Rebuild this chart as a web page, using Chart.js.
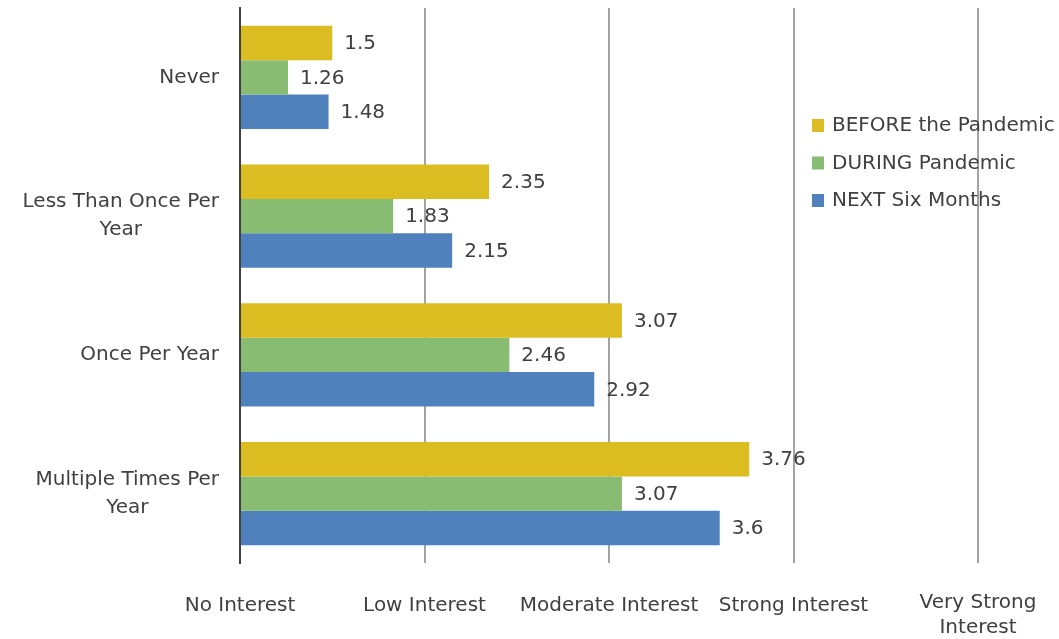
<!DOCTYPE html>
<html>
<head>
<meta charset="utf-8">
<script src="https://cdn.jsdelivr.net/npm/chart.js@4/dist/chart.umd.min.js"></script>
<style>
  body { margin: 0; background: #fff; }
  #wrap { width: 1059px; height: 639px; }
</style>
</head>
<body>
<div id="wrap"><canvas id="interest-chart" width="1059" height="639"></canvas></div>
<script>
var categories = [
  "Never",
  ["Less Than Once Per", "Year"],
  "Once Per Year",
  ["Multiple Times Per", "Year"]
];
var seriesNames = ["BEFORE the Pandemic", "DURING Pandemic", "NEXT Six Months"];
var beforeValues = [1.5, 2.35, 3.07, 3.76];
var duringValues = [1.26, 1.83, 2.46, 3.07];
var nextValues = [1.48, 2.15, 2.92, 3.6];
var tickValues = [1, 2, 3, 4, 5];
var tickLabels = ["No Interest", "Low Interest", "Moderate Interest", "Strong Interest", ["Very Strong", "Interest"]];
var colors = ["#DBBD22", "#88BC73", "#4F81BD"];

var textColor = "#404040";
var font = "20px 'DejaVu Sans', Verdana, sans-serif";

// value labels at the end of each bar
var valueLabels = {
  id: "valueLabels",
  afterDatasetsDraw: function(chart) {
    var ctx = chart.ctx;
    ctx.save();
    ctx.font = font;
    ctx.fillStyle = textColor;
    ctx.textAlign = "left";
    ctx.textBaseline = "middle";
    chart.data.datasets.forEach(function(ds, i) {
      chart.getDatasetMeta(i).data.forEach(function(bar, j) {
        ctx.fillText(String(ds.data[j]), bar.x + 12, bar.y + 1);
      });
    });
    ctx.restore();
  }
};

// category labels, right aligned block with centred lines
var categoryLabels = {
  id: "categoryLabels",
  afterDraw: function(chart) {
    var ctx = chart.ctx;
    var yScale = chart.scales.y;
    var right = chart.chartArea.left - 21;
    ctx.save();
    ctx.font = font;
    ctx.fillStyle = textColor;
    ctx.textAlign = "center";
    ctx.textBaseline = "middle";
    categories.forEach(function(label, i) {
      var lines = Array.isArray(label) ? label : [label];
      var w = 0;
      lines.forEach(function(l) { w = Math.max(w, ctx.measureText(l).width); });
      var cx = right - w / 2;
      var cy = yScale.getPixelForTick(i);
      var lh = 28;
      var y0 = cy - (lines.length - 1) * lh / 2;
      lines.forEach(function(l, k) { ctx.fillText(l, cx, y0 + k * lh); });
    });
    ctx.restore();
  }
};

// x tick labels below the plot
var axisLabels = {
  id: "axisLabels",
  afterDraw: function(chart) {
    var ctx = chart.ctx;
    var xScale = chart.scales.x;
    var top = chart.chartArea.bottom + 43;
    ctx.save();
    ctx.font = font;
    ctx.fillStyle = textColor;
    ctx.textAlign = "center";
    ctx.textBaseline = "middle";
    tickValues.forEach(function(v, i) {
      var lines = Array.isArray(tickLabels[i]) ? tickLabels[i] : [tickLabels[i]];
      var x = xScale.getPixelForValue(v);
      lines.forEach(function(l, k) {
        ctx.fillText(l, x, top + k * 25 - (lines.length > 1 ? 3 : 0));
      });
    });
    ctx.restore();
  }
};

// legend at the right, over the grid
var sideLegend = {
  id: "sideLegend",
  afterDraw: function(chart) {
    var ctx = chart.ctx;
    var x = chart.chartArea.right - 166;
    var y = 125;
    ctx.save();
    ctx.font = font;
    ctx.textAlign = "left";
    ctx.textBaseline = "middle";
    chart.data.datasets.forEach(function(ds, i) {
      var cy = y + i * 37.5;
      ctx.fillStyle = ds.backgroundColor;
      ctx.fillRect(x, cy - 6, 12, 13);
      ctx.fillStyle = textColor;
      ctx.fillText(ds.label, x + 20, cy + 1);
    });
    ctx.restore();
  }
};

var ctx = document.getElementById("interest-chart").getContext("2d");
var chart = new Chart(ctx, {
  type: "bar",
  data: {
    labels: categories,
    datasets: [
      { label: seriesNames[0], data: beforeValues, backgroundColor: colors[0], base: 1 },
      { label: seriesNames[1], data: duringValues, backgroundColor: colors[1], base: 1 },
      { label: seriesNames[2], data: nextValues, backgroundColor: colors[2], base: 1 }
    ]
  },
  options: {
    indexAxis: "y",
    responsive: false,
    animation: false,
    layout: { padding: { top: 8, right: 81, left: 0, bottom: 0 } },
    datasets: { bar: { categoryPercentage: 0.745, barPercentage: 1 } },
    plugins: {
      legend: { display: false },
      tooltip: { enabled: false }
    },
    scales: {
      x: {
        min: 1,
        max: 5,
        ticks: { display: false, stepSize: 1 },
        grid: { color: "#a3a3a3", lineWidth: 2, drawTicks: false },
        border: { display: false },
        afterFit: function(scale) { scale.height = 76; }
      },
      y: {
        ticks: { display: false },
        grid: { display: false, drawTicks: false },
        border: { display: true, color: "#404040", width: 2 },
        afterFit: function(scale) { scale.width = 240; }
      }
    }
  },
  plugins: [valueLabels, categoryLabels, axisLabels, sideLegend]
});
</script>
</body>
</html>
